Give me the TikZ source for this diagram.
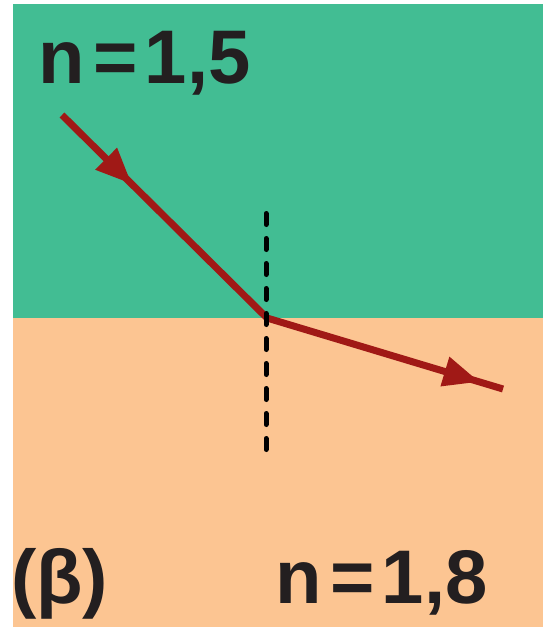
\documentclass[tikz,border=0pt]{standalone}
\usepackage{fontspec}
\setmainfont{Liberation Sans}
\usetikzlibrary{arrows.meta,decorations.markings}
\definecolor{upgreen}{HTML}{42BD93}
\definecolor{loworange}{HTML}{FCC592}
\definecolor{rayred}{HTML}{A01916}
\definecolor{inkblack}{HTML}{231F20}

\begin{document}
\begin{tikzpicture}[x=1pt,y=-1pt,
  lbl/.style={anchor=base west,inner sep=0pt,text=inkblack,font=\fontsize{76}{80}\selectfont\bfseries},
  ray/.style={line width=7pt,draw=rayred},
  midarrow/.style={postaction={decorate},decoration={markings,
    mark=at position #1 with {\arrow[rayred]{Triangle[length=36pt,width=29pt]}}}},
  normalline/.style={line width=5pt,line cap=round,dash pattern=on 11pt off 14pt}]
\useasboundingbox (0,0) rectangle (543,627);
% the two media
\fill[upgreen] (13,4) rectangle (543,318);
\fill[loworange] (13,318) rectangle (543,627);
% incident and refracted ray
\coordinate (S) at (62,115); \coordinate (O) at (267,318); \coordinate (E) at (503,389);
\draw[ray,midarrow=0.34] (S)--(O);
\draw[ray,midarrow=0.90] (O)--(E);
% normal
\coordinate (N1) at (266,213.5); \coordinate (N2) at (266,449.5);
\draw[normalline] (N1)--(N2);
\node[lbl] (ntop) at (38,83) {n\kern9pt=\kern7pt1,5};
\node[lbl] (case) at (11,603) {(β)};
\node[lbl] (nbot) at (275,603) {n\kern9pt=\kern7pt1,8};
\end{tikzpicture}
\end{document}
